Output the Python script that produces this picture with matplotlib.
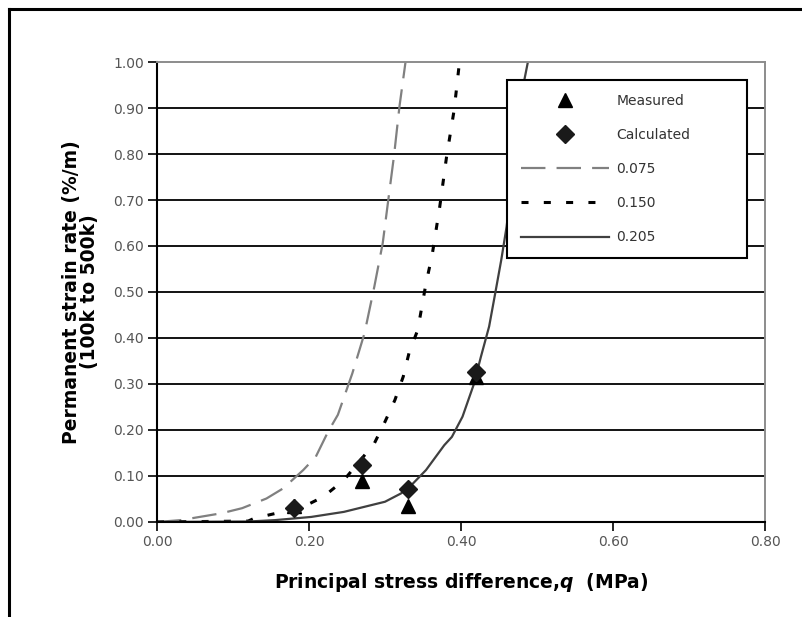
import matplotlib.pyplot as plt
from matplotlib.lines import Line2D

# Measured / calculated points
q_pts = [0.18, 0.27, 0.33, 0.42]
measured = [0.035, 0.089, 0.035, 0.315]
calculated = [0.03, 0.124, 0.071, 0.325]

# Model curves
q_075 = [0.0, 0.031, 0.085, 0.112, 0.144, 0.166, 0.1925, 0.209, 0.225, 0.238,
         0.257, 0.273, 0.286, 0.297, 0.304, 0.312, 0.319, 0.327]
e_075 = [0.0, 0.004, 0.019, 0.030, 0.051, 0.073, 0.113, 0.142, 0.196, 0.233,
         0.323, 0.410, 0.512, 0.606, 0.696, 0.798, 0.903, 1.0]

q_150 = [0.0, 0.12, 0.128, 0.157, 0.1925, 0.219, 0.246, 0.286, 0.30, 0.313,
         0.324, 0.332, 0.343, 0.354, 0.362, 0.372, 0.381, 0.391, 0.398]
e_150 = [0.0, 0.002, 0.008, 0.019, 0.033, 0.055, 0.091, 0.171, 0.218, 0.265,
         0.316, 0.370, 0.417, 0.519, 0.580, 0.685, 0.794, 0.896, 1.0]

q_205 = [0.0, 0.12, 0.155, 0.203, 0.246, 0.273, 0.30, 0.321, 0.337, 0.354,
         0.378, 0.388, 0.402, 0.417, 0.426, 0.437, 0.445, 0.453, 0.46, 0.4825, 0.488]
e_205 = [0.0, 0.001, 0.004, 0.011, 0.022, 0.033, 0.044, 0.062, 0.084, 0.113,
         0.167, 0.185, 0.229, 0.300, 0.358, 0.425, 0.497, 0.570, 0.642, 0.954, 1.0]

x_ticks = [0.0, 0.2, 0.4, 0.6, 0.8]
y_ticks = [0.0, 0.1, 0.2, 0.3, 0.4, 0.5, 0.6, 0.7, 0.8, 0.9, 1.0]

plt.rcParams['font.family'] = ['DejaVu Sans']
plt.rcParams['mathtext.fontset'] = 'dejavusans'

fig = plt.figure(figsize=(8.03, 6.17), dpi=100)
ax = fig.add_axes([0.1955, 0.154, 0.7572, 0.7455])

# outer frame (left and top edges only)
fig.add_artist(Line2D([0.0112, 0.0112], [0.0, 0.9854], color='black', lw=2.2,
                      transform=fig.transFigure))
fig.add_artist(Line2D([0.0112, 1.0], [0.9854, 0.9854], color='black', lw=2.2,
                      transform=fig.transFigure))

for y in y_ticks[1:-1]:
    ax.axhline(y, color='black', lw=1.3, zorder=1)

ax.plot(q_075, e_075, color='#808080', lw=1.6, dashes=(11, 5), label='0.075', zorder=2)
ax.plot(q_150, e_150, color='black', lw=2.2, dashes=(2.3, 5), label='0.150', zorder=2)
ax.plot(q_205, e_205, color='#404040', lw=1.6, label='0.205', zorder=2)

ax.plot(q_pts, measured, linestyle='none', marker='^', ms=10.5, color='black',
        label='Measured', zorder=3)
ax.plot(q_pts, calculated, linestyle='none', marker='D', ms=9, color='#1a1a1a',
        label='Calculated', zorder=4)

ax.set_xlim(0, 0.8)
ax.set_ylim(0, 1.0)
ax.set_xticks(x_ticks)
ax.set_yticks(y_ticks)
ax.set_xticklabels(['%.2f' % v for v in x_ticks])
ax.set_yticklabels(['%.2f' % v for v in y_ticks])
ax.tick_params(direction='out', length=6.5, width=1.2, colors='black',
               labelcolor='#555555', labelsize=10, pad=3)

ax.spines['left'].set_color('black')
ax.spines['bottom'].set_color('black')
ax.spines['left'].set_linewidth(1.5)
ax.spines['bottom'].set_linewidth(1.5)
ax.spines['top'].set_color('#8c8c8c')
ax.spines['right'].set_color('#8c8c8c')
ax.spines['top'].set_linewidth(1.4)
ax.spines['right'].set_linewidth(1.4)

ax.set_xlabel('Principal stress difference,$\\mathbfit{q}$  (MPa)',
              fontsize=13.5, fontweight='bold', labelpad=16)
ax.set_ylabel('Permanent strain rate (%/m)\n(100k to 500k)',
              fontsize=13.5, fontweight='bold', labelpad=10, linespacing=0.95)

handles, labels = ax.get_legend_handles_labels()
order = [3, 4, 0, 1, 2]
leg = ax.legend([handles[i] for i in order], [labels[i] for i in order],
                loc='upper left', bbox_to_anchor=(0.576, 0.0, 0.395, 0.961),
                mode='expand', fontsize=10, frameon=True, fancybox=False,
                framealpha=1.0, edgecolor='black', handlelength=6.3,
                handletextpad=0.55, labelspacing=1.45, borderpad=1.0,
                borderaxespad=0.0)
leg.get_frame().set_linewidth(1.5)
for t in leg.get_texts():
    t.set_color('#333333')

fig.savefig('out.png', dpi=100, facecolor='white')
